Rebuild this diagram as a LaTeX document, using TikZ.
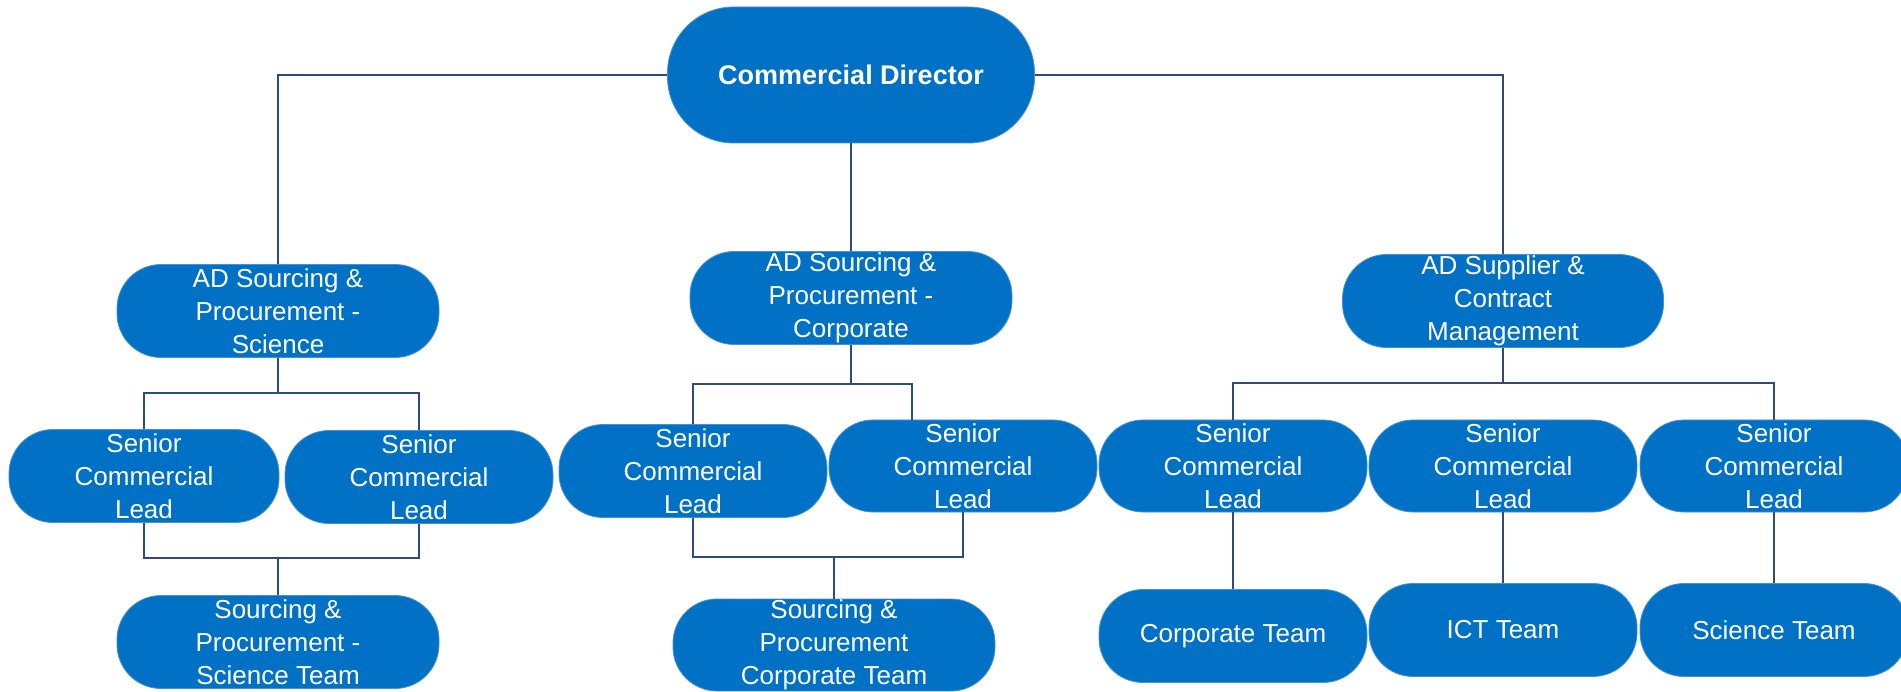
\documentclass[tikz,border=0pt]{standalone}
\usepackage{fontspec}
\setmainfont{Liberation Sans}
\definecolor{boxblue}{RGB}{0,113,197}
\definecolor{boxedge}{RGB}{70,145,215}
\definecolor{linkblue}{RGB}{47,75,125}
\tikzset{
  org/.style={rectangle, fill=boxblue, draw=boxedge, line width=0.8pt, text=white,
    align=center, inner sep=0pt, minimum height=93pt, rounded corners=44pt,
    font=\fontsize{26}{33}\selectfont},
  wide/.style={org, minimum width=322pt},
  narrow/.style={org, minimum width=268pt},
  link/.style={draw=linkblue, line width=1.4pt}
}
\begin{document}
\begin{tikzpicture}[x=1pt,y=-1pt]
\useasboundingbox (0,0) rectangle (1901,692);
% nodes
\node[org, minimum width=367pt, minimum height=136pt, rounded corners=66pt,
      font=\fontsize{27}{32}\selectfont\bfseries] (cd) at (851,75) {Commercial Director};
\node[wide] (adsci) at (278,311) {AD Sourcing \&\\Procurement -\\Science};
\node[wide] (adcorp) at (851,298) {AD Sourcing \&\\Procurement -\\Corporate};
\node[wide, minimum width=321pt] (adsup) at (1503,301) {AD Supplier \&\\Contract\\Management};
\node[narrow, minimum width=270pt] (scl1) at (144,476) {Senior\\Commercial\\Lead};
\node[narrow] (scl2) at (419,477) {Senior\\Commercial\\Lead};
\node[narrow] (scl3) at (693,471) {Senior\\Commercial\\Lead};
\node[narrow, minimum height=92pt] (scl4) at (963,466) {Senior\\Commercial\\Lead};
\node[narrow, minimum height=92pt] (scl5) at (1233,466) {Senior\\Commercial\\Lead};
\node[narrow, minimum height=92pt] (scl6) at (1503,466) {Senior\\Commercial\\Lead};
\node[narrow, minimum height=92pt] (scl7) at (1774,466) {Senior\\Commercial\\Lead};
\node[wide] (sps) at (278,642) {Sourcing \&\\Procurement -\\Science Team};
\node[wide, minimum height=92pt] (spc) at (834,645) {Sourcing \&\\Procurement\\Corporate Team};
\node[narrow] (ct) at (1233,636) {Corporate Team};
\node[narrow] (ict) at (1503,630) {ICT Team};
\node[narrow] (sct) at (1774,630) {Science Team};
% junctions
\coordinate (j1) at (278,393);
\coordinate (j2) at (278,558);
\coordinate (j3) at (851,384);
\coordinate (j4) at (834,557);
\coordinate (j5) at (1503,383);
% connectors
\draw[link] (cd.west) -| (adsci.north);
\draw[link] (cd.south) -- (adcorp.north);
\draw[link] (cd.east) -| (adsup.north);
\draw[link] (adsci.south) -- (j1);
\draw[link] (scl1.north) |- (j1) -| (scl2.north);
\draw[link] (scl1.south) |- (j2) -| (scl2.south);
\draw[link] (j2) -- (sps.north);
\draw[link] (adcorp.south) -- (j3);
\draw[link] (scl3.north) |- (j3) -| ([xshift=-51pt]scl4.north);
\draw[link] (scl3.south) |- (j4) -| (scl4.south);
\draw[link] (j4) -- (spc.north);
\draw[link] (adsup.south) -- (j5);
\draw[link] (scl5.north) |- (j5) -| (scl7.north);
\draw[link] (scl5.south) -- (ct.north);
\draw[link] (scl6.south) -- (ict.north);
\draw[link] (scl7.south) -- (sct.north);
\end{tikzpicture}
\end{document}
